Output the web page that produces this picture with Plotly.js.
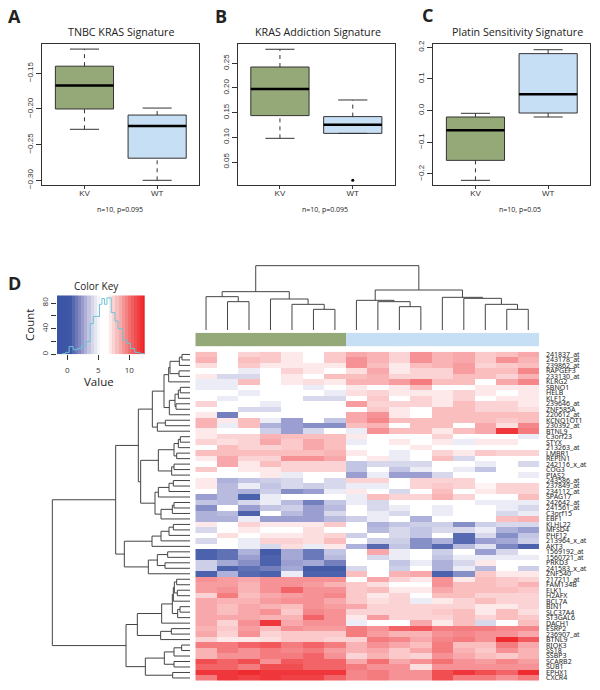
<!DOCTYPE html>
<html>
<head>
<meta charset="utf-8">
<script src="https://cdn.plot.ly/plotly-3.0.1.min.js"></script>
<style>html,body{margin:0;padding:0;background:#fff}</style>
</head>
<body>
<div id="graphDiv" style="width:600px;height:690px"></div>
<script>
// box plots: KV and WT
var categories = ['KV', 'WT'];
var aLow = [-0.2285, -0.300], aQ1 = [-0.200, -0.269], aMed = [-0.167, -0.224], aQ3 = [-0.140, -0.2085], aHigh = [-0.116, -0.1987];
var bLow = [0.098, 0.108], bQ1 = [0.144, 0.108], bMed = [0.198, 0.1256], bQ3 = [0.2425, 0.142], bHigh = [0.2784, 0.1757];
var bOutlierX = [2], bOutlierY = [0.0129];
var cLow = [-0.22, -0.02], cQ1 = [-0.157, -0.0075], cMed = [-0.062, 0.0516], cQ3 = [-0.02, 0.18], cHigh = [-0.0084, 0.1924];

// colour key: bins of the strip and the histogram steps
var keyBins = [-1.5,-1,-0.5,0,0.5,1,1.5,2,2.5,3,3.5,4,4.5,5,5.5,6,6.5,7,7.5,8,8.5,9,9.5,10,10.5,11,11.5,12,12.5];
var histBreaks = [-0.8,-0.25,0.3,0.95,1.6,2.3,3.0,3.7,4.2,4.7,5.2,5.6,6.0,6.4,7.1,7.7,8.2,8.9,9.6,10.2,10.9,11.7,12.4];
var histCounts = [1,3,12,7,9,13,20,48,59,59,78,87,78,88,65,52,40,22,17,9,3,1,1];

// column groups, 0 = KV, 1 = WT
var colGroups = [0,0,0,0,0,0,0,1,1,1,1,1,1,1,1,1];

var rowLabels = ['241837_at','243178_at','239862_at','RAPGEF3','233130_at','KLRG2','SBNO1','HELB','KLF12','239646_at',
  'ZNF585A','220612_at','KCNQ1OT1','230392_at','BTNL9','C3orf23','STYX','213263_at','LMBR1','REPIN1',
  '242116_x_at','COG3','PIAS2','243586_at','237849_at','234112_at','SPAG17','242642_at','241561_at','C3orf15',
  'EBF1','KLHL22','MFSD4','PHF12','213964_x_at','AKT3','1569192_at','1560721_at','PRKD3','241583_x_at',
  'ZNF540','217211_at','FAM134B','ELK1','H2AFX','BCL7A','BIN1','SLC37A4','ST3GAL6','DACH1',
  'ESRP2','236907_at','BTNL9','RIOK3','SS18','SSBP3','SCARB2','SUB1','EPHX1','CXCR4'];

// shades, -10 full blue, 0 white, 10 full red
var heat = [
[3,0,2,2.5,1,0,2.5,4,3.5,2,5,3.5,4,2.5,3,4],
[3.5,0,3,2.5,1,0,2.5,5,3.5,2,5,3.5,4,2.5,5,3.5],
[1.5,0,2.5,1,1,1,1,5,3,1,3,3.5,4.5,2,2.5,3],
[0,0,-1,0,2,1,0,1.5,4,1,2,2,4.5,3,3,5.5],
[1,-2,-2,0,1,0,3,3,3.5,2,2,2,3,3,2,3.5],
[-1,-1,3,0,1,1.5,1,3.5,3.5,4.5,6,3,3,0,4,5.5],
[-1,-1,0,0,0,-1,0,1,0,1,3,0,0,1,1,1],
[0,0,-1,0,0,0,-1,1.5,2,1,1,1,2,1,0,1],
[0,-1,0,0,0,-2,-2,0,2.5,0,2,1,2,0,1,1],
[2,0,0,-1,0,0,0,4.5,2,2,2,1,3,2,2,1],
[0,0,-2,-2,0,0,0,0,2.5,1,0,3,3,2,2,1.5],
[1,-7,0,0,0,0,0,4,5,1,0,3,3,3,3,3],
[3.5,1,3,-1,-5,0,-3,4,5.5,3,3,3,3,3,2.5,3],
[3.5,-1,3,-4,-5,-6,-6,3,3.5,0,3,3,0,4,1.5,5.5],
[1,0,0,-2.5,-5,-2,0,-1,5,3,3,1,3,4,9,6],
[1,2,2,3.5,3,3,3,1,0,0,0,2,0,0,0,-1],
[2,1.5,2,4,2.5,4,3,-1,0,1,0,1,-1,1,1,0],
[0,3,2,2,2.5,4,3,0,0,0,1,0,0,0,0,0],
[3,3,3,3,3,3,3.5,1,0,-1,0,2,1,2.5,2,2],
[1,4,2,2,5,5,4,0,1,-1,0,3,-2,0,0,0],
[0,4,1,3,2,2,2,-3,-2,-2,-2,0,0,-1,0,-2],
[2.5,0,1,1,2,2,2,-3,0,-3,-1,0,-1,-3,0,0],
[0,0,0,1,-1,0,0,-5,-1,-5,-5,-2,0,0,0,-1],
[1,-4,-3,-2.5,-2,0,-2,2,2,0,2,2,2,0,0,0],
[1,-3.5,-1,-3,-2,-2.5,-2,-1,-1,0,2,2.5,2,0.5,2,2],
[0,-3.5,-4,-2.5,-6,-5,-1,1,0,-2,0,3,0,1,2,2],
[-5,-3.5,-9,-1,0,0,0,-1,3,2,2,3.5,2,0,0,3],
[-3,-3.5,-2,-1,-3.5,-7,-3,-1,-2,0,0,0,0,-1,-1,-1],
[-6,0,-5,-3,-2.5,-5,-3.5,0,-2,-1,0,-1,0,0,-1,-2],
[-4,-3.5,-9,0,-3.5,-5,-2,0,-1,-2,0,-1,0,0,-2,-1],
[-4,-4,-1,-5,-5,-5,-3.5,-2.5,-1,0,-4,0,0,0,3,3.5],
[1,0,2,1,1,1,2.5,0,-4,-3,-2.5,-2.5,-6,-2.5,-2,-2],
[-2,0,1,0,0,1.5,0,0,-3.5,-2,-3,-2,-2,-1,-4,-5],
[0,1.5,0,1,1,1.5,2,-2.5,0,-2,-3,0,-8.5,-2,-6,-3],
[-2,0,-1,2,2,1.5,3,0,-2.5,-2.5,-6,-4,-8.5,-5,-4.5,-2.5],
[0,0,-1,-2,1.5,-1,1,-4,-8.5,-3,-6,-8.5,-3.5,-1.5,-6.5,-9],
[-9,-8,-4,-9.5,-4.5,-7.5,-3,0,4,-1,0,-2.5,0,-5,-2,0],
[-9,-8,-5,-9,-4.5,-7.5,-3.5,0,-2,-1,0,-3,-1,-1,-1,-1],
[-2.5,-4.5,-6,-9,-5,-4.5,-7,0,0,-3,-1,-4,-2,1,0,0],
[-2.5,-9,-8,-7,-4.5,-9.5,-9.5,-2,0,-2.5,0,-4,-1,-3.5,0,-2.5],
[-9,-4,-8.5,-9,-1,-9,-9,3,0,3.5,4,-9,-6,2.5,1,1],
[5,4.5,4,5,5,5,5,0,4,2,1,5,1,3,2.5,2],
[4.5,4.5,3.5,5,5,4.5,3.5,2.5,1.5,0,0,5,3,3,2.5,3.5],
[4.5,5,3.5,5,7,5,5,2.5,3,1,1,4,3,3,3,2.5],
[2,6,3,4,4.5,5,5.5,2.5,1,2,0,3,3,2,2,2],
[4,3.5,3.5,4.5,5,5,4,2.5,1.5,2,-1,1,2,3,2,2],
[4,3,4,3.5,3,5,4.5,4,2,2,2,2,2,1,1,2],
[4,3,4,5,2.5,5.5,5,2,2,2,2,2.5,3,1,3,1.5],
[4,4,4,3.5,3.5,7,5,1,4.5,2,2,2,3,2,3,2.5],
[4,2,5,9,4,5,5,-1,0,0,4,1,3,-2,0,3],
[3.5,2.5,4.5,3,5,4.5,4.5,6,5,7,7.5,6,6,6,5.5,5.5],
[4,2,5,2,2.5,2.5,2.5,6,4.5,3.5,3.5,5,5.5,5,5,4],
[2,1,1,1.5,2.5,2.5,2,2,6,5.5,4,5.5,6,5,9.5,7.5],
[6,6,7,7.5,6,7,6,3.5,5,4,3,6,3,3,6,4],
[3.5,6,5,6,5.5,6,4.5,3.5,4,2.5,4,6,3.5,2.5,5,3.5],
[3.5,5,5,6,6,7,5,2,3.5,2.5,2,5,4,3,2.5,3.5],
[8,7,8,5,7.5,7,7,4,6.5,4,5,6.5,5,4.5,5.5,4.5],
[7,7,6,8,8,7,7,6,5,5,1.5,5,5,5,5,5],
[9,9,9.5,9,9,9,9,5.5,6,5,5,8,9,8,7,9.5],
[6,9,8.5,9,8.5,8.5,7,5.5,6,5,5,8,6,6,5,6]
];

// dendrograms, hclust style: negative = leaf, positive = earlier merge (1 based), then height
var colMerge = [[-2,-3,85],[-1,1,100],[-6,-7,62],[-5,3,77],[-4,4,93],[2,5,115],
  [-10,-11,70],[-9,7,85],[-8,8,89],[-15,-16,62],[-14,10,77],[-13,11,95],[-12,12,98],[9,13,120],[6,14,193]];
var rowMerge = [[-1,-2,24],[1,-3,32],[-4,-5,33],[2,3,60],[4,-6,64],[-7,-8,29],[6,-9,35],[-10,-11,42],[7,8,45],[9,-12,62],
  [5,10,78],[-13,-14,74],[12,-15,98],[11,13,113],[-16,-17,29],[15,-18,35],[-19,-20,40],[16,17,48],[-21,-22,48],[19,-23,55],
  [18,20,95],[-24,-25,50],[22,-26,63],[23,-27,95],[-28,-29,48],[25,-30,53],[26,-31,87],[24,27,105],[21,28,148],[14,29,155],
  [-32,-33,50],[31,-34,63],[32,-35,87],[33,-36,114],[-37,-38,67],[-39,-40,75],[35,36,98],[37,-41,125],[34,38,197],[30,39,223],
  [-42,-43,40],[-44,-45,38],[41,42,47],[43,-46,50],[-47,-48,30],[45,-49,37],[44,46,53],[47,-50,85],[-51,-52,56],[49,-53,88],
  [48,50,158],[-54,-55,25],[52,-56,48],[-57,-58,48],[53,54,77],[-59,-60,52],[55,56,134],[51,57,192],[40,58,413]];

var ink = '#333333', green = '#95a878', blue = '#c6dff4';
var scale = [[0,'#3a53a4'],[0.25,'#9a9ed0'],[0.5,'#ffffff'],[0.75,'#f69295'],[1,'#ed2024']];
// the key strip holds its saturated ends longer than the cells suggest
var keyScale = [[0,'#3a53a4'],[0.14,'#3f57a6'],[0.26,'#8a8cc5'],[0.376,'#d0d0e8'],[0.49,'#ffffff'],[0.57,'#ffffff'],[0.66,'#f8c8c8'],[0.83,'#f26a6a'],[1,'#ed2024']];

function domX(a, b) { return [a / 600, b / 600]; }
function domY(top, bottom) { return [1 - bottom / 690, 1 - top / 690]; }

var data = [];

function addBoxes(n, low, q1, med, q3, high) {
  var xa = 'x' + n, ya = 'y' + n;
  categories.forEach(function (c, i) {
    var p = i + 1;
    data.push({type: 'box', xaxis: xa, yaxis: ya, x: [p], q1: [q1[i]], median: [med[i]], q3: [q3[i]],
      lowerfence: [q1[i]], upperfence: [q3[i]], width: 0.8, whiskerwidth: 0, fillcolor: i == 0 ? green : blue,
      line: {color: ink, width: 1}, boxpoints: false, hoverinfo: 'skip'});
    data.push({type: 'scatter', mode: 'lines', xaxis: xa, yaxis: ya, x: [p, p, null, p, p], y: [low[i], q1[i], null, q3[i], high[i]],
      line: {color: ink, width: 1, dash: '4px,4px'}, hoverinfo: 'skip'});
    data.push({type: 'scatter', mode: 'lines', xaxis: xa, yaxis: ya, x: [p - 0.2, p + 0.2, null, p - 0.2, p + 0.2],
      y: [low[i], low[i], null, high[i], high[i]], line: {color: ink, width: 1}, hoverinfo: 'skip'});
    data.push({type: 'scatter', mode: 'lines', xaxis: xa, yaxis: ya, x: [p - 0.4, p + 0.4], y: [med[i], med[i]],
      line: {color: '#000', width: 2.5}, hoverinfo: 'skip'});
  });
}
addBoxes(1, aLow, aQ1, aMed, aQ3, aHigh);
addBoxes(2, bLow, bQ1, bMed, bQ3, bHigh);
addBoxes(3, cLow, cQ1, cMed, cQ3, cHigh);
data.push({type: 'scatter', mode: 'markers', xaxis: 'x2', yaxis: 'y2', x: bOutlierX, y: bOutlierY,
  marker: {color: '#000', size: 3}, hoverinfo: 'skip'});

// colour key
data.push({type: 'heatmap', xaxis: 'x4', yaxis: 'y4', x: keyBins, y: [0, 92], z: [keyBins], zmin: -1.5, zmax: 12.5,
  colorscale: keyScale, showscale: false, hoverinfo: 'skip'});
data.push({type: 'scatter', mode: 'lines', xaxis: 'x4', yaxis: 'y4', x: histBreaks, y: histCounts,
  line: {color: '#6cc5d6', width: 1, shape: 'hv'}, hoverinfo: 'skip'});

// walks the merge table, returns the position of every merge
function dendroPaths(merge) {
  var pos = [], a = [], b = [];
  merge.forEach(function (m, k) {
    function node(id) {
      return id < 0 ? {p: -id - 1, h: 0} : {p: pos[id - 1], h: merge[id - 1][2]};
    }
    var l = node(m[0]), r = node(m[1]);
    pos[k] = (l.p + r.p) / 2;
    a.push(l.p, l.p, r.p, r.p, null);
    b.push(l.h, m[2], m[2], r.h, null);
  });
  return {pos: a, height: b};
}
var colTree = dendroPaths(colMerge), rowTree = dendroPaths(rowMerge);
data.push({type: 'scatter', mode: 'lines', xaxis: 'x5', yaxis: 'y5', x: colTree.pos, y: colTree.height,
  line: {color: '#444', width: 1}, hoverinfo: 'skip'});
data.push({type: 'scatter', mode: 'lines', xaxis: 'x6', yaxis: 'y6', x: rowTree.height, y: rowTree.pos,
  line: {color: '#444', width: 1}, hoverinfo: 'skip'});

// side colour strip and main heatmap
data.push({type: 'heatmap', xaxis: 'x7', yaxis: 'y7', z: [colGroups], zmin: 0, zmax: 1, showscale: false,
  colorscale: [[0, green], [0.5, green], [0.5, blue], [1, blue]], hoverinfo: 'skip'});
data.push({type: 'heatmap', xaxis: 'x8', yaxis: 'y8', z: heat, zmin: -10, zmax: 10, colorscale: scale,
  showscale: false, hoverinfo: 'skip'});

function boxAxes(left, right) {
  var x = {domain: domX(left, right), range: [0.42, 2.58], showline: true, mirror: true, linecolor: ink, linewidth: 1,
    tickmode: 'array', tickvals: [1, 2], ticktext: categories, ticks: 'outside', ticklen: 3, tickcolor: ink,
    ticklabelstandoff: -3, tickfont: {family: 'Liberation Sans', size: 8, color: '#333'}, zeroline: false, showgrid: false};
  return x;
}
function boxY(range, vals, fmt, anchor) {
  return {domain: domY(44.3, 185.3), range: range, showline: true, mirror: true, linecolor: ink, linewidth: 1,
    tickmode: 'array', tickvals: vals, tickformat: fmt, ticks: 'outside', ticklen: 5, tickcolor: ink, tickangle: -90,
    tickfont: {family: 'Liberation Sans', size: 8, color: '#333'}, zeroline: false, showgrid: false, anchor: anchor};
}
var hidden = {showline: false, showticklabels: false, ticks: '', zeroline: false, showgrid: false};
function blank(extra) { return Object.assign({}, hidden, extra); }

var layout = {
  width: 600, height: 690, margin: {l: 0, r: 0, t: 0, b: 0}, showlegend: false,
  paper_bgcolor: '#fff', plot_bgcolor: 'rgba(0,0,0,0)', font: {family: 'Open Sans', color: '#222'},
  xaxis: Object.assign(boxAxes(42.3, 199.3), {anchor: 'y'}),
  yaxis: boxY([-0.307, -0.1093], [-0.30, -0.25, -0.20, -0.15], '.2f', 'x'),
  xaxis2: Object.assign(boxAxes(237.7, 395), {anchor: 'y2'}),
  yaxis2: boxY([0.0028, 0.2885], [0.05, 0.10, 0.15, 0.20, 0.25], '.2f', 'x2'),
  xaxis3: Object.assign(boxAxes(433.3, 590.3), {anchor: 'y3'}),
  yaxis3: boxY([-0.2357, 0.2095], [-0.2, -0.1, 0, 0.1, 0.2], '.1f', 'x3'),
  xaxis4: {domain: domX(57, 144.7), range: [-1.66, 12.5], anchor: 'y4', tickmode: 'array', tickvals: [0, 5, 10],
    ticks: 'outside', ticklen: 5, tickcolor: ink, showline: false, zeroline: false, showgrid: false, ticklabelstandoff: 3,
    tickfont: {family: 'Open Sans', size: 8, color: '#333'}},
  yaxis4: {domain: domY(295.3, 354.3), range: [0, 92], anchor: 'x4', tickmode: 'array', tickvals: [0, 20, 40, 60, 80],
    ticktext: ['0', '', '40', '', '80'], ticks: 'outside', ticklen: 5, tickcolor: ink, tickangle: -90, showline: false,
    zeroline: false, showgrid: false, tickfont: {family: 'Open Sans', size: 8, color: '#333'}},
  xaxis5: blank({domain: domX(195.3, 539), range: [-0.5, 15.5], anchor: 'y5'}),
  yaxis5: blank({domain: domY(262, 330), range: [0, 204], anchor: 'x5'}),
  xaxis6: blank({domain: domX(40, 190), range: [450, 0], anchor: 'y6'}),
  yaxis6: blank({domain: domY(351.7, 680.7), range: [59.5, -0.5], anchor: 'x6'}),
  xaxis7: blank({domain: domX(195.3, 539), range: [-0.5, 15.5], anchor: 'y7'}),
  yaxis7: blank({domain: domY(332.7, 346.3), range: [-0.5, 0.5], anchor: 'x7'}),
  xaxis8: blank({domain: domX(195.3, 539), range: [-0.5, 15.5], anchor: 'y8'}),
  yaxis8: {domain: domY(351.7, 680.7), range: [59.5, -0.5], anchor: 'x8', side: 'right', tickmode: 'array',
    tickvals: rowLabels.map(function (l, i) { return i; }), ticktext: rowLabels, ticks: '', showline: false,
    zeroline: false, showgrid: false, ticklabelstandoff: 6, automargin: false,
    tickfont: {family: 'Noto Sans', size: 7, color: '#222'}},
  annotations: [
    note('A', 14, 16, 18, 'bold'), note('B', 221, 16, 18, 'bold'), note('C', 427, 15, 18, 'bold'), note('D', 14, 283, 18, 'bold'),
    note('TNBC KRAS Signature', 120.5, 32, 10.7), note('KRAS Addiction Signature', 317.5, 32, 10.7), note('Platin Sensitivity Signature', 517.5, 32, 10.7),
    note('n=10, p=0.095', 120, 209, 7), note('n=10, p=0.095', 325, 209, 7), note('n=10, p=0.05', 520, 209, 7),
    note('Color Key', 96, 286, 10),
    note('Value', 99, 382, 11.5),
    {text: 'Count', x: 29 / 600, y: 1 - 325 / 690, xref: 'paper', yref: 'paper', showarrow: false, textangle: -90,
      xanchor: 'center', yanchor: 'middle', font: {family: 'Open Sans', size: 11.5, color: '#222'}}
  ]
};

function note(text, px, py, size, weight) {
  return {text: weight ? '<b>' + text + '</b>' : text, x: px / 600, y: 1 - py / 690, xref: 'paper', yref: 'paper',
    showarrow: false, xanchor: 'center', yanchor: 'middle', font: {family: 'Open Sans', size: size, color: '#222'}};
}

Plotly.newPlot('graphDiv', data, layout, {staticPlot: true});
</script>
</body>
</html>
